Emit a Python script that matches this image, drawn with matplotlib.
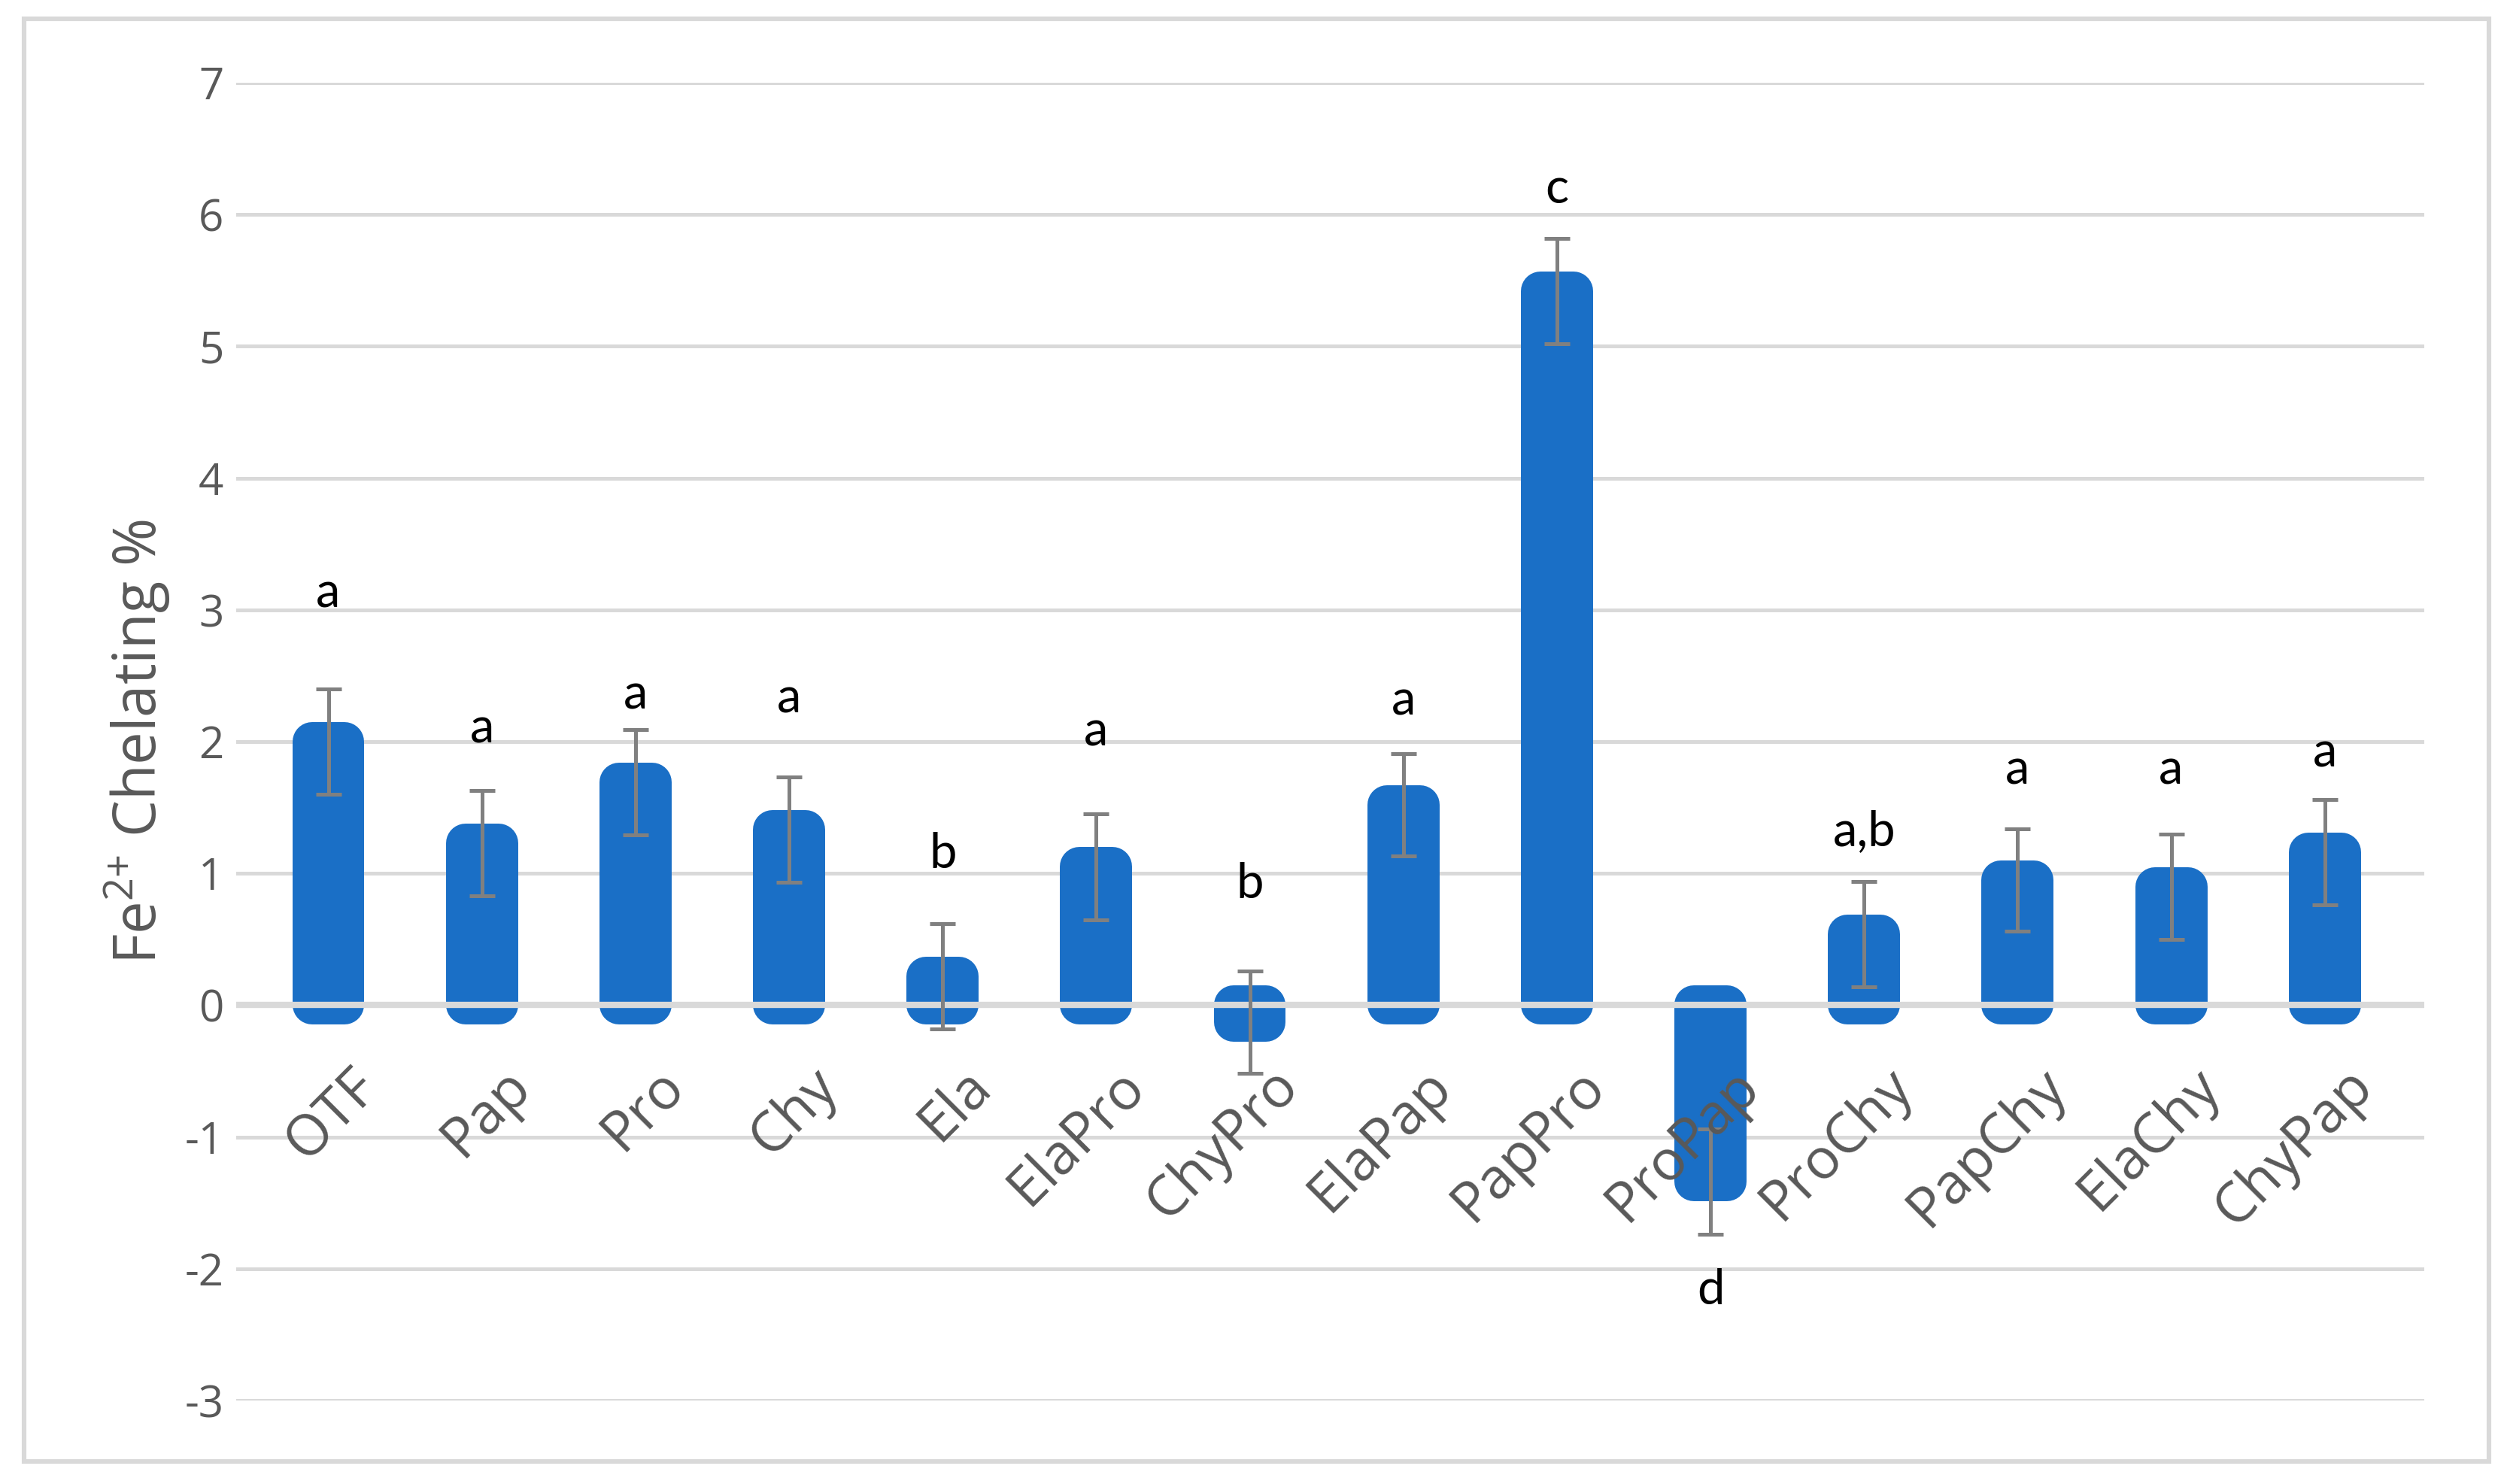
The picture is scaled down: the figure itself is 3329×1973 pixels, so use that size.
import matplotlib.pyplot as plt
from matplotlib.patches import Rectangle

categories = ['OTF', 'Pap', 'Pro', 'Chy', 'Ela', 'ElaPro', 'ChyPro', 'ElaPap',
              'PapPro', 'ProPap', 'ProChy', 'PapChy', 'ElaChy', 'ChyPap']
chelating = [2.00, 1.23, 1.69, 1.33, 0.22, 1.05, -0.13, 1.52, 5.42, -1.34, 0.54, 0.95, 0.90, 1.16]
errors = [0.40, 0.40, 0.40, 0.40, 0.40, 0.40, 0.39, 0.39, 0.40, 0.40, 0.40, 0.39, 0.40, 0.40]
letters = ['a', 'a', 'a', 'a', 'b', 'a', 'b', 'a', 'c', 'd', 'a,b', 'a', 'a', 'a']
letter_base = [3.02, 1.99, 2.25, 2.22, 1.04, 1.97, 0.81, 2.20, 6.09, -2.27, 1.21, 1.68, 1.68, 1.81]
yticks = list(range(-3, 8))

blue = '#1a6fc6'
grid_c = '#d9d9d9'
text_c = '#595959'

plt.rcParams['mathtext.fontset'] = 'custom'
plt.rcParams['mathtext.rm'] = 'Open Sans'
plt.rcParams['mathtext.default'] = 'rm'

fig = plt.figure(figsize=(16.65, 9.865), dpi=200)
ax = fig.add_axes([0.0943, 0.0563, 0.8737, 0.8879])

x = list(range(len(categories)))

# Excel-style rounded bars: thick outline with round joins
ax.bar(x, chelating, width=0.215, color=blue, edgecolor=blue,
       linewidth=18.7, joinstyle='round', zorder=2)
ax.axhline(0, color=grid_c, lw=3.0, zorder=3)
ax.errorbar(x, chelating, yerr=errors, fmt='none', ecolor='#808080',
            elinewidth=1.8, capsize=6, capthick=1.8, zorder=4)

for i, (lab, yb) in enumerate(zip(letters, letter_base)):
    ax.text(i, yb, lab, ha='center', va='baseline', fontsize=23.5,
            family='Lato', color='black', zorder=5)

for i, name in enumerate(categories):
    ax.text(i + 0.26, -0.55, name, rotation=45, rotation_mode='anchor',
            ha='right', va='center', fontsize=27, family='Open Sans',
            color=text_c, zorder=5)

ax.set_ylim(-3, 7)
ax.set_xlim(-0.6, 13.65)
ax.set_yticks(yticks)
ax.set_yticklabels([str(t) for t in yticks], family='Open Sans',
                   fontsize=21, color=text_c)
ax.set_xticks([])
ax.tick_params(axis='y', length=0, pad=6)
ax.grid(axis='y', color=grid_c, lw=1.8, zorder=0)
ax.set_axisbelow(True)
for s in ax.spines.values():
    s.set_visible(False)

ax.set_ylabel('Fe$^{2{+}}$ Chelating %', family='Open Sans', fontsize=28,
              color=text_c, labelpad=6)

fig.patches.append(Rectangle((0.0096, 0.0152), 0.984, 0.972,
                             transform=fig.transFigure, fill=False,
                             edgecolor=grid_c, lw=2.2))

fig.savefig('out.png', dpi=200)
